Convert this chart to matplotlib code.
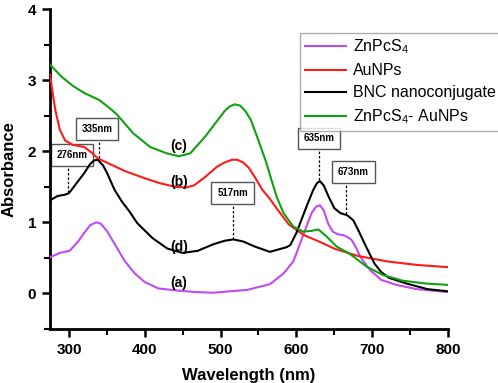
import matplotlib
matplotlib.use("Agg")
import matplotlib.pyplot as plt
from matplotlib.ticker import MultipleLocator

plt.rcParams["font.family"] = ["Liberation Sans", "DejaVu Sans"]
plt.rcParams["mathtext.fontset"] = "custom"
plt.rcParams["mathtext.rm"] = "Liberation Sans"

# (a) ZnPcS4
wl_a = [275, 288, 301, 312, 320, 328, 336, 342, 350, 360, 374, 387, 400, 418, 444, 466, 490,
        535, 565, 583, 596, 609, 620, 626, 631, 636, 642, 648, 655, 662, 668, 673, 679, 684, 697,
        712, 732, 759, 800]
abs_a = [0.51, 0.57, 0.60, 0.73, 0.85, 0.96, 1.0, 0.98, 0.88, 0.70, 0.45, 0.28, 0.16, 0.07, 0.04, 0.02, 0.01,
         0.05, 0.13, 0.28, 0.45, 0.82, 1.13, 1.22, 1.24, 1.17, 0.98, 0.87, 0.83, 0.82, 0.79, 0.75, 0.64, 0.52, 0.33,
         0.19, 0.12, 0.06, 0.02]

# (b) AuNPs
wl_b = [275, 278, 282, 288, 295, 305, 320, 330, 338, 356, 374, 400, 420, 440, 455, 465, 480, 495, 505,
        515, 522, 530, 537, 545, 555, 565, 575, 590, 610, 630, 650, 680, 720, 760, 800]
abs_b = [3.08, 2.85, 2.58, 2.30, 2.15, 2.09, 2.06, 1.98, 1.90, 1.81, 1.72, 1.62, 1.55, 1.50, 1.49, 1.52, 1.64, 1.78, 1.84,
         1.88, 1.88, 1.84, 1.77, 1.64, 1.46, 1.33, 1.18, 0.97, 0.82, 0.73, 0.63, 0.53, 0.45, 0.40, 0.37]

# (c) ZnPcS4-AuNPs
wl_c = [275, 290, 305, 320, 340, 352, 363, 385, 407, 429, 445, 460, 480, 495, 505, 512, 519, 526,
        533, 540, 550, 560, 567, 574, 583, 596, 609, 620, 629, 640, 653, 670, 693, 714, 740, 770, 800]
abs_c = [3.22, 3.05, 2.92, 2.82, 2.72, 2.62, 2.52, 2.25, 2.06, 1.97, 1.93, 1.97, 2.21, 2.42, 2.56, 2.63, 2.66, 2.64,
         2.56, 2.44, 2.15, 1.85, 1.60, 1.36, 1.13, 0.94, 0.87, 0.88, 0.90, 0.80, 0.66, 0.56, 0.375, 0.26, 0.18, 0.14, 0.12]

# (d) BNC nanoconjugate
wl_d = [275, 285, 295, 300, 310, 320, 328, 333, 338, 345, 350, 360, 370, 380, 390, 410, 430, 450, 470,
        490, 505, 517, 530, 545, 565, 587, 592, 600, 614, 622, 627, 631, 636, 643, 650, 658, 667, 675,
        683, 690, 703, 712, 722, 745, 773, 800]
abs_d = [1.31, 1.37, 1.39, 1.41, 1.55, 1.69, 1.82, 1.87, 1.88, 1.80, 1.70, 1.46, 1.29, 1.15, 0.99, 0.78, 0.63, 0.57, 0.60,
         0.69, 0.74, 0.76, 0.73, 0.66, 0.585, 0.65, 0.68, 0.85, 1.24, 1.45, 1.55, 1.58, 1.52, 1.35, 1.20, 1.13, 1.10, 1.03,
         0.86, 0.70, 0.42, 0.30, 0.22, 0.14, 0.06, 0.03]

legend_labels = ["ZnPcS$_4$", "AuNPs", "BNC nanoconjugate", "ZnPcS$_4$- AuNPs"]
colors = ["#bf4cf2", "#ff1a1a", "#000000", "#10a010"]

# peak annotations: label, x of dashed line, x/y of box centre, y where the line ends
peak_labels = ["276nm", "335nm", "517nm", "635nm", "673nm"]
peak_x = [299, 339, 516, 630, 666]
peak_box_x = [304, 337, 516, 630, 675]
peak_box_y = [1.95, 2.31, 1.41, 2.18, 1.71]
peak_end_y = [1.41, 1.88, 0.76, 1.58, 1.10]

curve_tags = ["(a)", "(b)", "(c)", "(d)"]
tag_y = [0.14, 1.57, 2.07, 0.66]

fig = plt.figure(figsize=(4.98, 3.83), dpi=100)
ax = fig.add_axes([0.1004, 0.141, 0.7992, 0.8355])

lines = []
for wl, ab, c in zip([wl_a, wl_b, wl_d, wl_c], [abs_a, abs_b, abs_d, abs_c],
                     [colors[0], colors[1], colors[2], colors[3]]):
    ln, = ax.plot(wl, ab, color=c, lw=1.5, zorder=3)
    lines.append(ln)

# boxes sit under the curves
for lab, x, bx, yb, ye in zip(peak_labels, peak_x, peak_box_x, peak_box_y, peak_end_y):
    ax.plot([x, x], [yb, ye], color="black", lw=0.9, ls=(0, (2, 1.5)), zorder=1.5)
    ax.text(bx, yb, lab, ha="center", va="center", fontsize=7, fontweight="bold", zorder=2,
            bbox=dict(boxstyle="square,pad=0.6", fc="white", ec="#555555", lw=1.0))

for t, y in zip(curve_tags, tag_y):
    ax.text(445, y, t, ha="center", va="center", fontsize=10, fontweight="bold")

ax.set_xlim(275, 800)
ax.set_ylim(-0.5, 4)
ax.xaxis.set_major_locator(MultipleLocator(100))
ax.xaxis.set_minor_locator(MultipleLocator(50))
ax.yaxis.set_major_locator(MultipleLocator(1))
ax.yaxis.set_minor_locator(MultipleLocator(0.5))
ax.spines["top"].set_visible(False)
ax.spines["right"].set_visible(False)
for s in ["left", "bottom"]:
    ax.spines[s].set_linewidth(2)
ax.tick_params(which="major", length=6, width=1.8, labelsize=11, pad=4)
ax.tick_params(which="minor", length=4, width=1.5)
for lbl in ax.get_xticklabels() + ax.get_yticklabels():
    lbl.set_fontweight("bold")

ax.set_xlabel("Wavelength (nm)", fontsize=12, fontweight="bold", labelpad=8)
ax.set_ylabel("Absorbance", fontsize=12, fontweight="bold", labelpad=8)

leg = fig.legend([lines[0], lines[1], lines[2], lines[3]], legend_labels,
                 loc="upper left", bbox_to_anchor=(0.602, 0.915), fontsize=11.5,
                 frameon=True, fancybox=False, handlelength=2.6, handletextpad=0.4,
                 labelspacing=0.45, borderpad=0.3, borderaxespad=0)
leg.get_frame().set_edgecolor("#999999")
leg.get_frame().set_linewidth(1.0)

fig.savefig("out.png", dpi=100)
